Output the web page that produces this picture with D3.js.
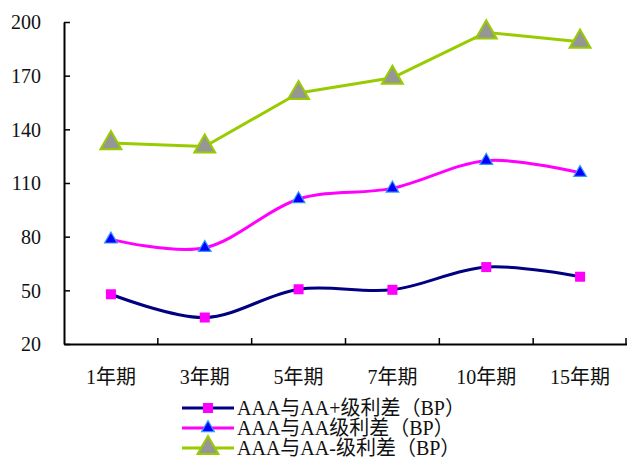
<!DOCTYPE html>
<html>
<head>
<meta charset="utf-8">
<script src="https://cdn.jsdelivr.net/npm/d3@7/dist/d3.min.js"></script>
<style>
  html, body { margin: 0; padding: 0; background: #fff; }
  svg { display: block; }
  text { font-family: "Liberation Serif", "Times New Roman", "Noto Sans CJK SC", serif; fill: #111; }
</style>
</head>
<body>
<svg id="chart" width="627" height="458"></svg>
<script>
// Terms (categories)
const categories = ["1年期", "3年期", "5年期", "7年期", "10年期", "15年期"];
// Y-axis tick values
const yTicks = [20, 50, 80, 110, 140, 170, 200];
// Spread series (BP)
const seriesNames = ["AAA与AA+级利差（BP）", "AAA与AA级利差（BP）", "AAA与AA-级利差（BP）"];
const spreadAAplus = [47.8, 34.8, 50.6, 50.3, 63, 57.6];
const spreadAA = [78.5, 73.8, 101, 107, 122.5, 115.7];
const spreadAAminus = [132.3, 130.4, 160.3, 168.8, 194.2, 189];

const svg = d3.select("#chart");
const plotLeft = 64, plotRight = 627, plotTop = 22, plotBottom = 344;

const x = d3.scaleBand().domain(categories).range([plotLeft, plotRight]).padding(0);
const y = d3.scaleLinear().domain([20, 200]).range([plotBottom, plotTop]);
const cx = d => x(d) + x.bandwidth() / 2;

// Axes
const yAxis = d3.axisLeft(y).tickValues(yTicks).tickSizeInner(-6).tickSizeOuter(0).tickPadding(22);
const gy = svg.append("g").attr("transform", `translate(${plotLeft},0)`).call(yAxis);
gy.select(".domain").attr("stroke", "#000").attr("stroke-width", 2);
gy.selectAll(".tick line").attr("stroke", "#000").attr("stroke-width", 1.5);
gy.selectAll(".tick text").attr("font-size", 20).attr("x", -23).attr("dy", "0.34em");

const xAxis = d3.axisBottom(x).tickSize(0).tickPadding(0);
const gx = svg.append("g").attr("transform", `translate(0,${plotBottom})`).call(xAxis);
gx.select(".domain").attr("stroke", "#000").attr("stroke-width", 2);
gx.selectAll(".tick text").attr("font-size", 20).attr("y", 33).attr("dy", "0.36em");
// Category separators ticking up from the baseline
svg.append("g").selectAll("line")
  .data(categories.slice(1))
  .join("line")
  .attr("x1", d => x(d)).attr("x2", d => x(d))
  .attr("y1", plotBottom).attr("y2", plotBottom - 6)
  .attr("stroke", "#000").attr("stroke-width", 1.5);
svg.append("line").attr("x1", plotRight - 1).attr("x2", plotRight - 1)
  .attr("y1", plotBottom).attr("y2", plotBottom - 6).attr("stroke", "#000").attr("stroke-width", 1.5);

const smooth = d3.line().x((d, i) => cx(categories[i])).y(d => y(d)).curve(d3.curveCatmullRom.alpha(0));
const straight = d3.line().x((d, i) => cx(categories[i])).y(d => y(d));

const tri = (s) => d3.symbol().type(d3.symbolTriangle).size(s)();

const series = [
  { name: seriesNames[0], values: spreadAAplus, color: "#000080", line: smooth, marker: "square" },
  { name: seriesNames[1], values: spreadAA, color: "#ff00ff", line: smooth, marker: "tri" },
  { name: seriesNames[2], values: spreadAAminus, color: "#99cc00", line: straight, marker: "bigtri" }
];

function drawMarker(g, type) {
  if (type === "square") {
    g.append("rect").attr("x", -5).attr("y", -5).attr("width", 10).attr("height", 10)
      .attr("fill", "#ff00ff");
  } else if (type === "tri") {
    g.append("path").attr("d", tri(70)).attr("fill", "#0000ff")
      .attr("stroke", "#3399ff").attr("stroke-width", 1.2);
  } else {
    g.append("path").attr("d", tri(190)).attr("fill", "#969696")
      .attr("stroke", "#99cc00").attr("stroke-width", 2);
  }
}

series.forEach(s => {
  svg.append("path").attr("d", s.line(s.values)).attr("fill", "none")
    .attr("stroke", s.color).attr("stroke-width", 3).attr("stroke-linejoin", "round");
});
series.forEach(s => {
  s.values.forEach((v, i) => {
    const g = svg.append("g").attr("transform", `translate(${cx(categories[i])},${y(v)})`);
    drawMarker(g, s.marker);
  });
});

// Legend
const legend = svg.append("g").attr("transform", "translate(182,408)");
series.forEach((s, i) => {
  const row = legend.append("g").attr("transform", `translate(0,${i * 20})`);
  row.append("line").attr("x1", 0).attr("x2", 52).attr("y1", 0).attr("y2", 0)
    .attr("stroke", s.color).attr("stroke-width", 3);
  const m = row.append("g").attr("transform", "translate(26,0)");
  drawMarker(m, s.marker);
  row.append("text").attr("x", 55).attr("y", 0).attr("dy", "0.36em")
    .attr("font-size", 20).text(s.name);
});
</script>
</body>
</html>
